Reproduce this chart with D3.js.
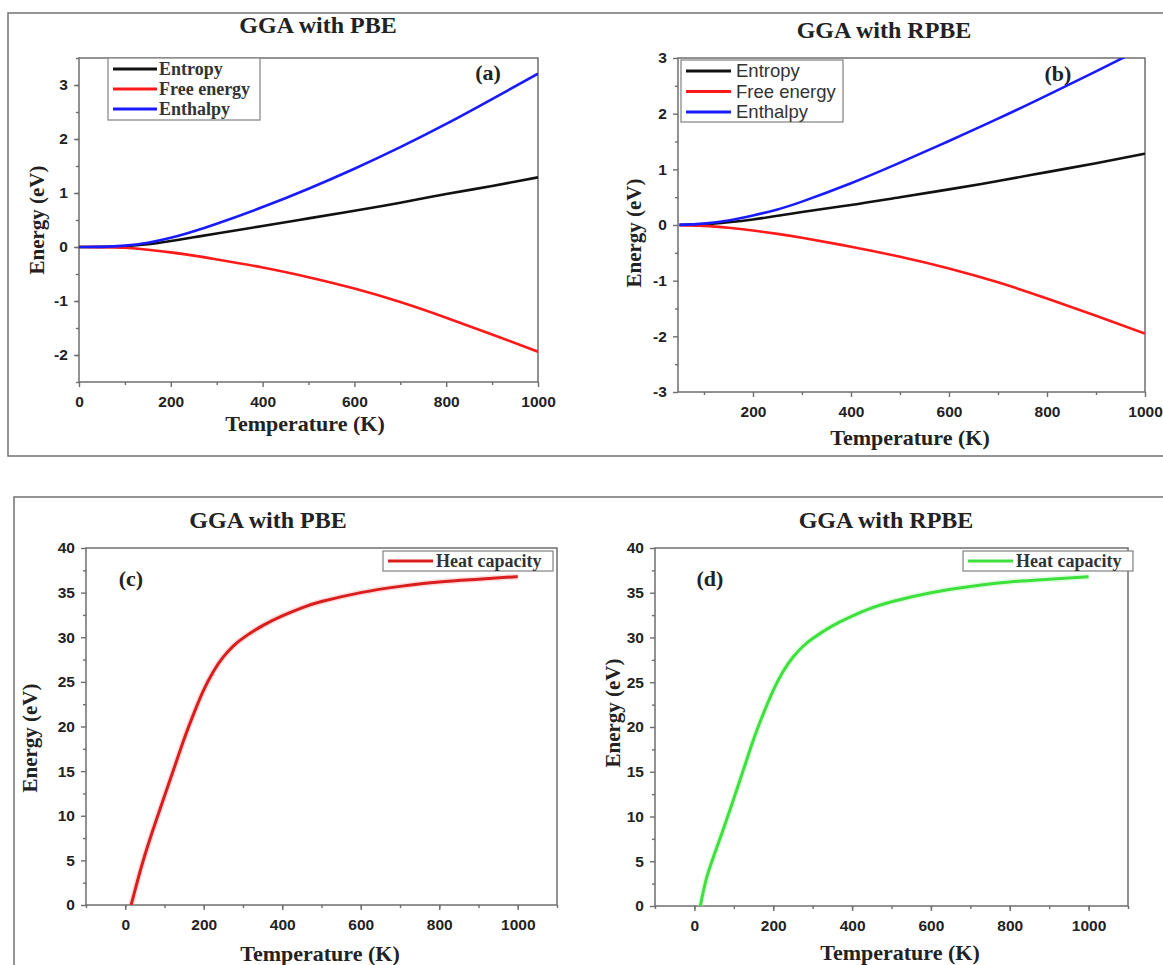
<!DOCTYPE html>
<html>
<head>
<meta charset="utf-8">
<script src="https://cdn.jsdelivr.net/npm/d3@7"></script>
<style>
  html, body { margin: 0; padding: 0; background: #fff; }
  svg { display: block; }
</style>
</head>
<body>
<svg id="fig" width="1163" height="965"></svg>
<script>
// ---- thermodynamic data (energy in eV vs temperature in K) ----
const tempPBE = [0, 50, 100, 150, 200, 250, 300, 400, 500, 600, 700, 800, 900, 1000];
const entropyPBE  = [0, 0.002, 0.015, 0.05, 0.11, 0.18, 0.25, 0.39, 0.53, 0.67, 0.82, 0.98, 1.13, 1.29];
const freePBE     = [0, -0.002, -0.015, -0.05, -0.10, -0.16, -0.23, -0.38, -0.56, -0.77, -1.02, -1.31, -1.62, -1.94];
const enthalpyPBE = [0, 0.002, 0.025, 0.08, 0.17, 0.29, 0.43, 0.74, 1.08, 1.45, 1.85, 2.28, 2.74, 3.21];

const tempRPBE = [50, 100, 150, 200, 250, 300, 400, 500, 600, 700, 800, 900, 1000];
const entropyRPBE  = [0.002, 0.015, 0.05, 0.10, 0.165, 0.235, 0.36, 0.50, 0.64, 0.79, 0.95, 1.11, 1.28];
const freeRPBE     = [-0.002, -0.015, -0.05, -0.10, -0.16, -0.23, -0.39, -0.57, -0.78, -1.03, -1.32, -1.63, -1.95];
const enthalpyRPBE = [0.002, 0.025, 0.08, 0.17, 0.28, 0.42, 0.75, 1.12, 1.51, 1.91, 2.33, 2.76, 3.20];

const tempCv = [15, 30, 50, 75, 100, 125, 150, 175, 200, 225, 250, 275, 300, 350, 400, 450, 500, 600, 700, 800, 900, 1000];
const heatPBE  = [0, 2.5, 5.6, 9.0, 12.2, 15.4, 18.6, 21.5, 24.1, 26.2, 27.8, 29.0, 29.9, 31.3, 32.4, 33.3, 34.0, 35.0, 35.7, 36.2, 36.5, 36.8];
const heatRPBE = [0, 3.0, 5.7, 8.8, 12.0, 15.3, 18.6, 21.5, 24.1, 26.2, 27.8, 29.0, 29.9, 31.3, 32.4, 33.3, 34.0, 35.0, 35.7, 36.2, 36.5, 36.8];

// tick values
const xTicksThermo = [0, 200, 400, 600, 800, 1000];
const xTicksRPBE = [200, 400, 600, 800, 1000];
const yTicksPBE = [-2, -1, 0, 1, 2, 3];
const yTicksRPBE = [-3, -2, -1, 0, 1, 2, 3];
const yTicksHeat = [0, 5, 10, 15, 20, 25, 30, 35, 40];

const SERIF = "'Liberation Serif', 'Times New Roman', serif";
const SANS = "'Liberation Sans', Arial, sans-serif";
const AXIS = "#6e6e6e";

const svg = d3.select("#fig");

// outer frames
svg.append("rect").attr("x", 8).attr("y", 13).attr("width", 1170).attr("height", 443)
  .attr("fill", "none").attr("stroke", "#7a7a7a").attr("stroke-width", 1.6);
svg.append("rect").attr("x", 14).attr("y", 497).attr("width", 1170).attr("height", 500)
  .attr("fill", "none").attr("stroke", "#7a7a7a").attr("stroke-width", 1.6);

let clipId = 0;

function panel(cfg) {
  const g = svg.append("g");
  const x = d3.scaleLinear().domain(cfg.xDomain).range([cfg.left, cfg.right]);
  const y = d3.scaleLinear().domain(cfg.yDomain).range([cfg.bottom, cfg.top]);

  // plot frame
  g.append("rect").attr("x", cfg.left).attr("y", cfg.top)
    .attr("width", cfg.right - cfg.left).attr("height", cfg.bottom - cfg.top)
    .attr("fill", "none").attr("stroke", AXIS).attr("stroke-width", 1.5);

  // minor ticks
  const xMinor = d3.range(cfg.xMinor[0], cfg.xMinor[1] + 1e-9, cfg.xMinor[2]);
  const yMinor = d3.range(cfg.yMinor[0], cfg.yMinor[1] + 1e-9, cfg.yMinor[2]);

  const plain = d => String(d);   // hyphen-minus, as on the printed axes
  const xAxis = d3.axisBottom(x).tickValues(cfg.xTicks).tickSize(5).tickFormat(plain);
  const yAxis = d3.axisLeft(y).tickValues(cfg.yTicks).tickSize(5).tickFormat(plain);
  const xAxisMinor = d3.axisBottom(x).tickValues(xMinor).tickSize(3).tickFormat("");
  const yAxisMinor = d3.axisLeft(y).tickValues(yMinor).tickSize(3).tickFormat("");

  function style(sel) {
    sel.select(".domain").remove();
    sel.selectAll(".tick line").attr("stroke", AXIS).attr("stroke-width", 1.4);
    sel.selectAll(".tick text").attr("fill", "#222").attr("font-family", SANS)
      .attr("font-weight", "bold").attr("font-size", 15.5);
  }
  g.append("g").attr("transform", `translate(0,${cfg.bottom})`).call(xAxisMinor).call(style);
  g.append("g").attr("transform", `translate(${cfg.left},0)`).call(yAxisMinor).call(style);
  const gx = g.append("g").attr("transform", `translate(0,${cfg.bottom})`).call(xAxis).call(style);
  gx.selectAll(".tick text").attr("dy", "1.1em");
  const gy = g.append("g").attr("transform", `translate(${cfg.left},0)`).call(yAxis).call(style);
  gy.selectAll(".tick text").attr("dx", "-0.2em");

  // curves, clipped to plot area
  const cid = "clip" + (clipId++);
  g.append("clipPath").attr("id", cid).append("rect")
    .attr("x", cfg.left).attr("y", cfg.top)
    .attr("width", cfg.right - cfg.left).attr("height", cfg.bottom - cfg.top);
  const line = d3.line().x(d => x(d[0])).y(d => y(d[1])).curve(d3.curveNatural);
  cfg.series.forEach(s => {
    const pts = cfg.temps.map((t, i) => [t, s.values[i]]);
    if (s.halo) {
      g.append("path").datum(pts).attr("clip-path", `url(#${cid})`)
        .attr("fill", "none").attr("stroke", s.halo).attr("stroke-width", s.width + 3)
        .attr("stroke-opacity", 0.35).attr("d", line);
    }
    g.append("path").datum(pts).attr("clip-path", `url(#${cid})`)
      .attr("fill", "none").attr("stroke", s.color).attr("stroke-width", s.width)
      .attr("stroke-linejoin", "round").attr("d", line);
  });

  // legend
  const L = cfg.legend;
  g.append("rect").attr("x", L.x).attr("y", L.y).attr("width", L.w).attr("height", L.h)
    .attr("fill", "#fff").attr("stroke", "#8a8a8a").attr("stroke-width", 1.3);
  cfg.series.forEach((s, i) => {
    const yy = L.y + L.row0 + i * L.dy;
    g.append("line").attr("x1", L.x + L.pad).attr("x2", L.x + L.pad + L.len)
      .attr("y1", yy).attr("y2", yy).attr("stroke", s.color).attr("stroke-width", 3);
    g.append("text").attr("x", L.x + L.pad + L.len + L.gap).attr("y", yy)
      .attr("dy", "0.35em").attr("font-family", L.font).attr("font-weight", L.weight)
      .attr("font-size", L.size).attr("fill", "#333").text(s.name);
  });

  // panel tag, title and axis labels
  g.append("text").attr("x", cfg.tag[0]).attr("y", cfg.tag[1]).attr("text-anchor", "middle")
    .attr("dy", "0.35em").attr("font-family", SERIF).attr("font-weight", "bold")
    .attr("font-size", 22).attr("fill", "#222").text(cfg.tagText);
  g.append("text").attr("x", cfg.title[0]).attr("y", cfg.title[1]).attr("text-anchor", "middle")
    .attr("dy", "0.35em").attr("font-family", SERIF).attr("font-weight", "bold")
    .attr("font-size", 24).attr("fill", "#222").text(cfg.titleText);
  g.append("text").attr("x", cfg.xLabel[0]).attr("y", cfg.xLabel[1]).attr("text-anchor", "middle")
    .attr("dy", "0.35em").attr("font-family", SERIF).attr("font-weight", "bold")
    .attr("font-size", 22).attr("fill", "#222").text("Temperature (K)");
  g.append("text").attr("transform", `translate(${cfg.yLabel[0]},${cfg.yLabel[1]}) rotate(-90)`)
    .attr("text-anchor", "middle").attr("dy", "0.35em").attr("font-family", SERIF)
    .attr("font-weight", "bold").attr("font-size", 21).attr("fill", "#222").text("Energy (eV)");
}

// (a) PBE thermodynamic functions
panel({
  left: 79, right: 538, top: 58, bottom: 382,
  xDomain: [0, 1000], yDomain: [-2.5, 3.5],
  xTicks: xTicksThermo, yTicks: yTicksPBE,
  xMinor: [100, 900, 200], yMinor: [-2.5, 3.5, 0.5],
  temps: tempPBE,
  series: [
    { name: "Entropy", values: entropyPBE, color: "#111", width: 2.6 },
    { name: "Free energy", values: freePBE, color: "#ff1a1a", width: 2.6 },
    { name: "Enthalpy", values: enthalpyPBE, color: "#1a1aff", width: 2.6 }
  ],
  legend: { x: 108, y: 58, w: 152, h: 62, pad: 5, len: 44, gap: 2, row0: 11, dy: 20,
            font: SERIF, weight: "bold", size: 18 },
  tag: [488, 72], tagText: "(a)",
  title: [318, 25], titleText: "GGA with PBE",
  xLabel: [305, 423], yLabel: [37, 220]
});

// (b) RPBE thermodynamic functions
panel({
  left: 678, right: 1145, top: 58, bottom: 392,
  xDomain: [47, 1000], yDomain: [-3, 3],
  xTicks: xTicksRPBE, yTicks: yTicksRPBE,
  xMinor: [100, 900, 200], yMinor: [-2.5, 2.5, 1],
  temps: tempRPBE,
  series: [
    { name: "Entropy", values: entropyRPBE, color: "#111", width: 2.6 },
    { name: "Free energy", values: freeRPBE, color: "#ff1a1a", width: 2.6 },
    { name: "Enthalpy", values: enthalpyRPBE, color: "#1a1aff", width: 2.6 }
  ],
  legend: { x: 681, y: 60, w: 162, h: 62, pad: 5, len: 45, gap: 5, row0: 11, dy: 20.5,
            font: SANS, weight: "normal", size: 18.5 },
  tag: [1058, 73], tagText: "(b)",
  title: [884, 30], titleText: "GGA with RPBE",
  xLabel: [910, 437], yLabel: [634, 233]
});

// (c) PBE heat capacity
panel({
  left: 86, right: 557, top: 548, bottom: 905,
  xDomain: [-100, 1100], yDomain: [0, 40],
  xTicks: xTicksThermo, yTicks: yTicksHeat,
  xMinor: [-100, 1100, 100], yMinor: [2.5, 37.5, 5],
  temps: tempCv,
  series: [
    { name: "Heat capacity", values: heatPBE, color: "#d91e1e", width: 3, halo: "#ff9a9a" }
  ],
  legend: { x: 383, y: 551, w: 170, h: 20, pad: 5, len: 45, gap: 3, row0: 10, dy: 20,
            font: SERIF, weight: "bold", size: 18 },
  tag: [131, 578], tagText: "(c)",
  title: [268, 520], titleText: "GGA with PBE",
  xLabel: [320, 953], yLabel: [30, 738]
});

// (d) RPBE heat capacity
panel({
  left: 655, right: 1128, top: 548, bottom: 906,
  xDomain: [-100, 1100], yDomain: [0, 40],
  xTicks: xTicksThermo, yTicks: yTicksHeat,
  xMinor: [-100, 1100, 100], yMinor: [2.5, 37.5, 5],
  temps: tempCv,
  series: [
    { name: "Heat capacity", values: heatRPBE, color: "#3ee03e", width: 3, halo: "#a8f5a8" }
  ],
  legend: { x: 963, y: 551, w: 170, h: 20, pad: 5, len: 45, gap: 3, row0: 10, dy: 20,
            font: SERIF, weight: "bold", size: 18 },
  tag: [710, 578], tagText: "(d)",
  title: [886, 520], titleText: "GGA with RPBE",
  xLabel: [900, 952], yLabel: [613, 713]
});
</script>
</body>
</html>
